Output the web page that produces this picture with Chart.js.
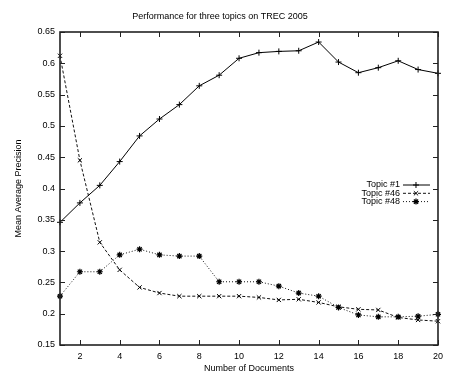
<!DOCTYPE html>
<html>
<head>
<meta charset="utf-8">
<script src="https://cdn.jsdelivr.net/npm/chart.js@4.4.0/dist/chart.umd.min.js"></script>
<style>
  html, body { margin: 0; padding: 0; background: #fff; }
</style>
</head>
<body>
<canvas id="myChart" width="449" height="376"></canvas>
<script>
// data
const docs    = [1, 2, 3, 4, 5, 6, 7, 8, 9, 10, 11, 12, 13, 14, 15, 16, 17, 18, 19, 20];
const topic1  = [0.346, 0.377, 0.405, 0.443, 0.484, 0.511, 0.534, 0.564, 0.581, 0.608,
                 0.617, 0.619, 0.620, 0.634, 0.602, 0.585, 0.593, 0.604, 0.590, 0.584];
const topic46 = [0.612, 0.445, 0.314, 0.270, 0.242, 0.233, 0.228, 0.228, 0.228, 0.228,
                 0.226, 0.222, 0.223, 0.218, 0.211, 0.207, 0.206, 0.194, 0.190, 0.188];
const topic48 = [0.228, 0.267, 0.267, 0.294, 0.303, 0.294, 0.292, 0.292, 0.251, 0.251,
                 0.251, 0.244, 0.233, 0.228, 0.210, 0.198, 0.195, 0.195, 0.196, 0.199];
const seriesNames = ['Topic #1', 'Topic #46', 'Topic #48'];
const xTicks = [2, 4, 6, 8, 10, 12, 14, 16, 18, 20];
const yTicks = [0.15, 0.2, 0.25, 0.3, 0.35, 0.4, 0.45, 0.5, 0.55, 0.6, 0.65];

const FONT = '"Liberation Sans", Arial, sans-serif';
const FS = 9;

function toPoints(vals) {
    return docs.map((d, i) => ({ x: d, y: vals[i] }));
}

// box border + inward ticks like gnuplot
const framePlugin = {
    id: 'frame',
    afterDatasetsDraw(chart) {
        const ctx = chart.ctx;
        const a = chart.chartArea;
        const sx = chart.scales.x, sy = chart.scales.y;
        ctx.save();
        ctx.strokeStyle = '#222';
        ctx.lineWidth = 1;
        ctx.beginPath();
        xTicks.forEach(v => {
            const px = Math.round(sx.getPixelForValue(v)) + 0.5;
            ctx.moveTo(px, a.bottom); ctx.lineTo(px, a.bottom - 5);
            ctx.moveTo(px, a.top); ctx.lineTo(px, a.top + 5);
        });
        yTicks.forEach(v => {
            const py = Math.round(sy.getPixelForValue(v)) + 0.5;
            ctx.moveTo(a.left, py); ctx.lineTo(a.left + 5, py);
            ctx.moveTo(a.right, py); ctx.lineTo(a.right - 5, py);
        });
        ctx.stroke();
        ctx.lineWidth = 1.6;
        ctx.strokeRect(a.left, a.top, a.right - a.left, a.bottom - a.top);
        ctx.restore();
    }
};

// legend inside the plot, top right
const keyPlugin = {
    id: 'key',
    afterDatasetsDraw(chart) {
        const ctx = chart.ctx;
        const a = chart.chartArea;
        const textRight = a.right - 38;
        ctx.save();
        ctx.font = FS + 'px ' + FONT;
        ctx.textAlign = 'right';
        ctx.textBaseline = 'middle';
        chart.data.datasets.forEach((ds, i) => {
            const y = 185 + i * 8.3;
            ctx.fillStyle = '#000';
            ctx.fillText(ds.label, textRight, y);
            ctx.strokeStyle = ds.borderColor;
            ctx.lineWidth = 1;
            ctx.setLineDash(ds.borderDash || []);
            ctx.beginPath();
            ctx.moveTo(textRight + 3, y);
            ctx.lineTo(textRight + 30, y);
            ctx.stroke();
            ctx.setLineDash([]);
            ctx.fillStyle = ds.pointBackgroundColor;
            ctx.strokeStyle = ds.pointBorderColor;
            ctx.lineWidth = ds.pointBorderWidth;
            Chart.helpers.drawPoint(ctx, {
                pointStyle: ds.pointStyle, radius: ds.pointRadius,
                borderWidth: ds.pointBorderWidth, rotation: 0
            }, textRight + 16, y);
        });
        ctx.restore();
    }
};

const myChart = new Chart(document.getElementById('myChart').getContext('2d'), {
    type: 'line',
    data: {
        datasets: [{
            label: seriesNames[0],
            data: toPoints(topic1),
            borderColor: '#000',
            borderWidth: 1,
            pointStyle: 'cross',
            pointRadius: 3,
            pointBorderWidth: 1,
            pointBorderColor: '#000',
            pointBackgroundColor: '#000',
            clip: false
        }, {
            label: seriesNames[1],
            data: toPoints(topic46),
            borderColor: '#111',
            borderWidth: 1,
            borderDash: [3, 2],
            pointStyle: 'crossRot',
            pointRadius: 3,
            pointBorderWidth: 1,
            pointBorderColor: '#000',
            pointBackgroundColor: '#000',
            clip: false
        }, {
            label: seriesNames[2],
            data: toPoints(topic48),
            borderColor: '#111',
            borderWidth: 1,
            borderDash: [1, 2],
            pointStyle: 'star',
            pointRadius: 3,
            pointBorderWidth: 1.2,
            pointBorderColor: '#000',
            pointBackgroundColor: '#000',
            clip: false
        }]
    },
    options: {
        responsive: false,
        animation: false,
        devicePixelRatio: 1,
        layout: { padding: { top: 0, right: 9, bottom: 0, left: 0 } },
        plugins: {
            legend: { display: false },
            tooltip: { enabled: false },
            title: {
                display: true,
                text: 'Performance for three topics on TREC 2005',
                color: '#000',
                font: { family: FONT, size: FS, weight: 'normal' },
                padding: { top: 11, bottom: 10.2 }
            }
        },
        scales: {
            x: {
                type: 'linear',
                min: 1,
                max: 20,
                afterBuildTicks: (scale) => { scale.ticks = xTicks.map(v => ({ value: v })); },
                afterFit: (scale) => { scale.height = 31; },
                grid: { display: false, drawTicks: false },
                border: { display: false },
                ticks: {
                    color: '#000',
                    padding: 6,
                    maxRotation: 0,
                    autoSkip: false,
                    font: { family: FONT, size: FS }
                },
                title: {
                    display: true,
                    text: 'Number of Documents',
                    color: '#000',
                    font: { family: FONT, size: FS },
                    padding: { top: 0, bottom: 2.5 }
                }
            },
            y: {
                min: 0.15,
                max: 0.65,
                afterBuildTicks: (scale) => { scale.ticks = yTicks.map(v => ({ value: v })); },
                afterFit: (scale) => { scale.width = 60; },
                grid: { display: false, drawTicks: false },
                border: { display: false },
                ticks: {
                    color: '#000',
                    padding: 5,
                    autoSkip: false,
                    font: { family: FONT, size: FS },
                    callback: (v) => String(parseFloat(v.toFixed(2)))
                },
                title: {
                    display: true,
                    text: 'Mean Average Precision',
                    color: '#000',
                    font: { family: FONT, size: FS },
                    padding: { top: 13, bottom: 0 }
                }
            }
        }
    },
    plugins: [framePlugin, keyPlugin]
});
</script>
</body>
</html>
